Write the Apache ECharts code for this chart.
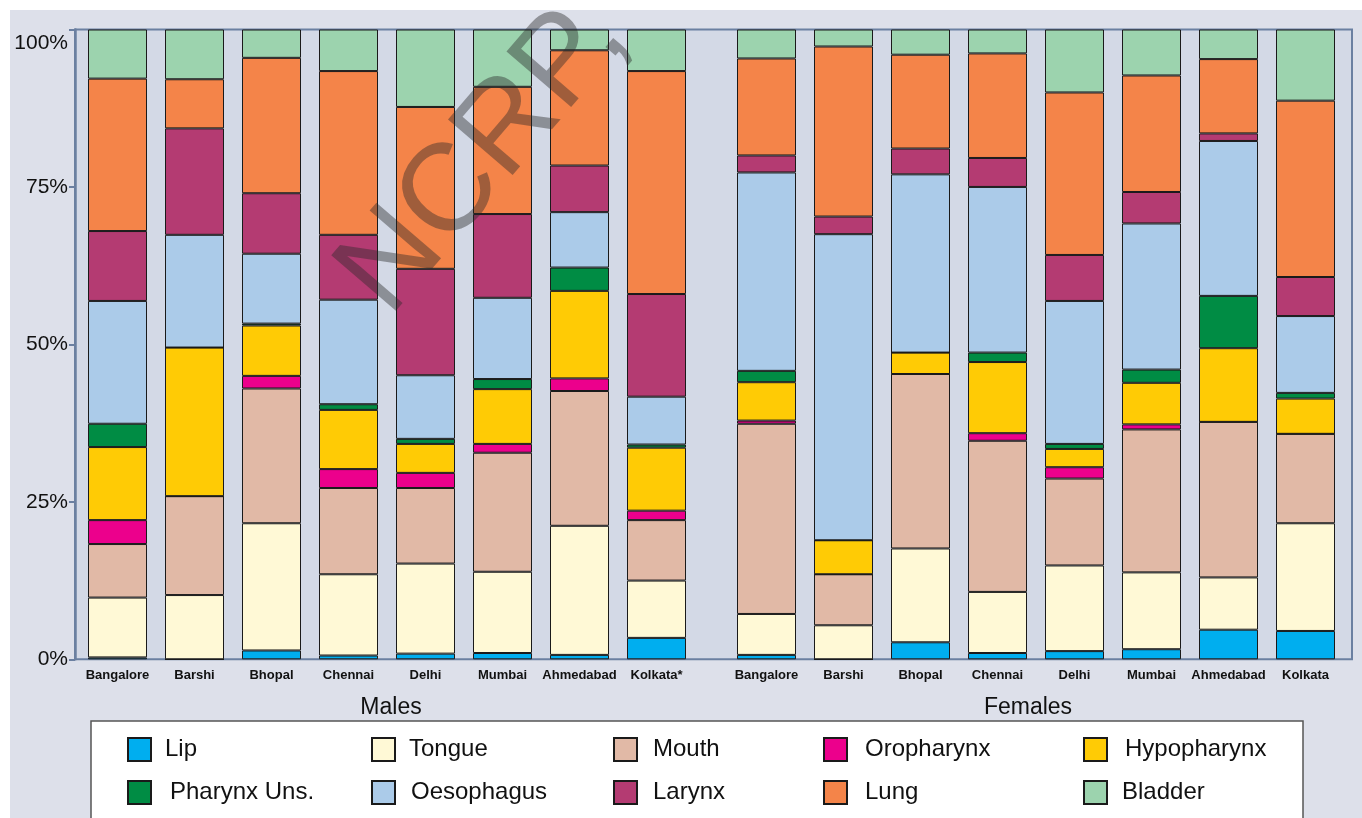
<!DOCTYPE html>
<html>
<head>
<meta charset="utf-8">
<script src="https://cdn.jsdelivr.net/npm/echarts@6/dist/echarts.min.js"></script>
<style>
  html, body { margin: 0; padding: 0; background: #fff; }
  #chart { width: 1362px; height: 818px; }
</style>
</head>
<body>
<div id="chart"></div>
<script>
// cities, males first then females
var malesCities = ['Bangalore', 'Barshi', 'Bhopal', 'Chennai', 'Delhi', 'Mumbai', 'Ahmedabad', 'Kolkata*'];
var femalesCities = ['Bangalore', 'Barshi', 'Bhopal', 'Chennai', 'Delhi', 'Mumbai', 'Ahmedabad', 'Kolkata'];
var yTicks = [0, 25, 50, 75, 100];

// share of each site (%) - 8 male columns then 8 female columns
var lip         = [0.3, 0, 1.4, 0.6, 0.9, 1.0, 0.7, 3.4,    0.7, 0, 2.7, 1.0, 1.3, 1.6, 4.7, 4.5];
var tongue      = [9.5, 10.2, 20.2, 12.9, 14.3, 12.9, 20.5, 9.1,    6.5, 5.4, 14.9, 9.7, 13.6, 12.2, 8.3, 17.1];
var mouth       = [8.5, 15.7, 21.4, 13.7, 12.0, 18.9, 21.4, 9.6,    30.2, 8.1, 27.7, 24.0, 13.8, 22.7, 24.7, 14.2];
var oropharynx  = [3.8, 0, 2.0, 3.0, 2.4, 1.4, 2.0, 1.5,    0.5, 0, 0, 1.2, 1.8, 0.8, 0, 0];
var hypopharynx = [11.6, 23.6, 8.0, 9.4, 4.6, 8.7, 13.9, 10.0,    6.1, 5.4, 3.4, 11.3, 2.9, 6.6, 11.7, 5.6];
var pharynxUns  = [3.7, 0, 0.3, 0.9, 0.8, 1.6, 3.7, 0.5,    1.8, 0, 0, 1.5, 0.8, 2.1, 8.3, 0.9];
var oesophagus  = [19.5, 17.9, 11.1, 16.6, 10.1, 12.9, 8.8, 7.6,    31.5, 48.6, 28.3, 26.3, 22.7, 23.2, 24.6, 12.2];
var larynx      = [11.1, 16.9, 9.6, 10.3, 16.9, 13.3, 7.4, 16.3,    2.7, 2.8, 4.1, 4.6, 7.3, 5.0, 1.2, 6.2];
var lung        = [24.2, 7.8, 21.5, 26.0, 25.7, 20.2, 18.3, 35.4,    15.4, 27.0, 14.9, 16.6, 25.8, 18.5, 11.8, 28.0];
var bladder     = [7.8, 7.9, 4.5, 6.6, 12.3, 9.1, 3.3, 6.6,    4.6, 2.7, 4.0, 3.8, 10.0, 7.3, 4.7, 11.3];

var sites = ['Lip', 'Tongue', 'Mouth', 'Oropharynx', 'Hypopharynx', 'Pharynx Uns.', 'Oesophagus', 'Larynx', 'Lung', 'Bladder'];
var siteValues = [lip, tongue, mouth, oropharynx, hypopharynx, pharynxUns, oesophagus, larynx, lung, bladder];
var siteColors = ['#00aeef', '#fff9d6', '#e1b9a6', '#ec008c', '#ffcb05', '#008c44', '#abcbe9', '#b43b72', '#f48449', '#9cd3ae'];

// legend layout: icon x, text x, row
var legendIconX = [127, 371, 613, 823, 1083, 127, 371, 613, 823, 1083];
var legendTextX = [164, 408, 652, 864, 1124, 169, 410, 652, 864, 1121];
var legendRowY = [737, 780];

document.addEventListener('DOMContentLoaded', function () {
    var myChart = echarts.init(document.getElementById('chart'));
    var option;

    var series = [];
    sites.forEach(function (name, i) {
        var common = {
            name: name,
            type: 'bar',
            barWidth: 59,
            itemStyle: { color: siteColors[i], borderColor: '#1a1a1a', borderWidth: 1 },
            emphasis: { disabled: true }
        };
        series.push(Object.assign({}, common, {
            stack: 'males', xAxisIndex: 1, yAxisIndex: 1,
            data: siteValues[i].slice(0, 8)
        }));
        series.push(Object.assign({}, common, {
            stack: 'females', xAxisIndex: 2, yAxisIndex: 2,
            data: siteValues[i].slice(8)
        }));
    });

    var legends = sites.map(function (name, i) {
        return {
            data: [name],
            left: legendIconX[i],
            top: legendRowY[i < 5 ? 0 : 1],
            padding: 0,
            icon: 'rect',
            itemWidth: 23,
            itemHeight: 23,
            selectedMode: false,
            textStyle: {
                fontFamily: 'Liberation Sans, Arial, sans-serif',
                fontSize: 24,
                color: '#111',
                padding: [0, 0, 0, legendTextX[i] - legendIconX[i] - 28]
            }
        };
    });

    var catAxis = function (grid, data, title, pad) {
        return {
            gridIndex: grid,
            type: 'category',
            data: data,
            axisLine: { show: false },
            axisTick: { show: false },
            axisLabel: {
                interval: 0, margin: 10,
                fontFamily: 'Liberation Sans, Arial, sans-serif',
                fontWeight: 'bold', fontSize: 13, color: '#111'
            },
            name: title,
            nameLocation: 'middle',
            nameGap: 37,
            nameTextStyle: {
                fontFamily: 'Liberation Sans, Arial, sans-serif',
                fontSize: 23, color: '#111', padding: pad
            }
        };
    };

    var yFont = 'Liberation Sans, Arial, sans-serif';

    option = {
        animation: false,
        graphic: [
            { type: 'rect', z: -10, shape: { x: 10, y: 10, width: 1352, height: 808 }, style: { fill: '#dde0ea' } },
            { type: 'rect', z: -9, shape: { x: 91, y: 721, width: 1212, height: 120 }, style: { fill: '#ffffff', stroke: '#555', lineWidth: 1.5 } },
            {
                // watermark
                type: 'text', z: 100, x: 484, y: 156, rotation: 0.86,
                style: {
                    text: 'NCRP,', fill: 'rgba(40,40,40,0.42)',
                    font: '124px "Liberation Sans", Arial, sans-serif',
                    align: 'center', verticalAlign: 'middle'
                }
            }
        ],
        legend: legends,
        grid: [
            { left: 75, top: 29.5, right: 10, bottom: 158.7, show: true, backgroundColor: '#d3d9e6', borderColor: '#6b80a1', borderWidth: 2 },
            { left: 79, width: 616, top: 29.5, bottom: 158.7 },
            { left: 728, width: 616, top: 29.5, bottom: 158.7 }
        ],
        xAxis: [
            { gridIndex: 0, type: 'value', show: false },
            catAxis(1, malesCities, 'Males', [0, 0, 0, 8]),
            catAxis(2, femalesCities, 'Females', [0, 16, 0, 0])
        ],
        yAxis: [
            {
                gridIndex: 0, type: 'value', min: 0, max: 100, interval: 25,
                splitLine: { show: false },
                axisLine: { show: true, lineStyle: { color: '#6b80a1', width: 2.5 } },
                axisTick: { show: true, length: 6, lineStyle: { color: '#6b80a1', width: 2 } },
                axisLabel: {
                    margin: 7,
                    fontFamily: yFont,
                    fontSize: 21, color: '#111',
                    formatter: function (v) {
                        if (yTicks.indexOf(v) < 0) return '';
                        return v === 100 ? '{top|' + v + '%}' : v + '%';
                    },
                    rich: {
                        top: { fontFamily: yFont, fontSize: 21, color: '#111', padding: [27, 0, 0, 0] }
                    }
                }
            },
            { gridIndex: 1, type: 'value', min: 0, max: 100, show: false },
            { gridIndex: 2, type: 'value', min: 0, max: 100, show: false }
        ],
        series: series
    };

    option && myChart.setOption(option);
});
</script>
</body>
</html>
